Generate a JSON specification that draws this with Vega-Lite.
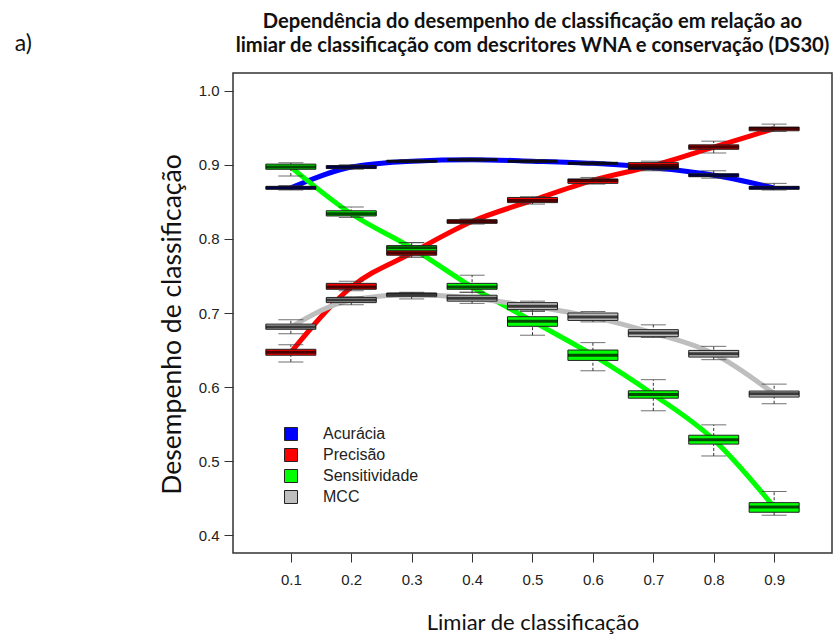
{
  "$schema": "https://vega.github.io/schema/vega-lite/v6.json",
  "width": 599,
  "height": 480,
  "autosize": "none",
  "padding": {"left": 233, "top": 73, "right": 5, "bottom": 86},
  "background": "white",
  "title": {
    "text": ["Dependência do desempenho de classificação em relação ao", "limiar de classificação com descritores WNA e conservação (DS30)"],
    "font": "Lato",
    "fontWeight": "bold",
    "fontSize": 20.2,
    "lineHeight": 24,
    "color": "#111",
    "anchor": "middle",
    "frame": "group",
    "offset": -23
  },
  "config": {
    "view": {"stroke": "#333", "strokeWidth": 1.5},
    "axis": {
      "grid": false,
      "domain": false,
      "tickColor": "#333",
      "tickSize": 9,
      "labelFont": "Liberation Sans",
      "labelFontSize": 15,
      "labelColor": "#222",
      "titleFont": "Lato",
      "titleFontWeight": "normal",
      "titleColor": "#111"
    }
  },
  "layer": [
    {
      "data": {
        "values": [
          {"t": 0.1, "metric": "Acurácia", "lo": 0.866, "q1": 0.867, "med": 0.869, "q3": 0.871, "hi": 0.872},
          {"t": 0.2, "metric": "Acurácia", "lo": 0.894, "q1": 0.895, "med": 0.897, "q3": 0.899, "hi": 0.900},
          {"t": 0.3, "metric": "Acurácia", "lo": 0.903, "q1": 0.904, "med": 0.905, "q3": 0.906, "hi": 0.907},
          {"t": 0.4, "metric": "Acurácia", "lo": 0.905, "q1": 0.906, "med": 0.907, "q3": 0.908, "hi": 0.909},
          {"t": 0.5, "metric": "Acurácia", "lo": 0.903, "q1": 0.904, "med": 0.905, "q3": 0.906, "hi": 0.907},
          {"t": 0.6, "metric": "Acurácia", "lo": 0.900, "q1": 0.901, "med": 0.902, "q3": 0.903, "hi": 0.904},
          {"t": 0.7, "metric": "Acurácia", "lo": 0.892, "q1": 0.894, "med": 0.896, "q3": 0.898, "hi": 0.900},
          {"t": 0.8, "metric": "Acurácia", "lo": 0.882, "q1": 0.884, "med": 0.886, "q3": 0.888, "hi": 0.892},
          {"t": 0.9, "metric": "Acurácia", "lo": 0.866, "q1": 0.867, "med": 0.869, "q3": 0.871, "hi": 0.875},
          {"t": 0.1, "metric": "Precisão", "lo": 0.634, "q1": 0.643, "med": 0.647, "q3": 0.651, "hi": 0.657},
          {"t": 0.2, "metric": "Precisão", "lo": 0.730, "q1": 0.732, "med": 0.735, "q3": 0.740, "hi": 0.743},
          {"t": 0.3, "metric": "Precisão", "lo": 0.775, "q1": 0.778, "med": 0.781, "q3": 0.785, "hi": 0.795},
          {"t": 0.4, "metric": "Precisão", "lo": 0.820, "q1": 0.821, "med": 0.8235, "q3": 0.826, "hi": 0.827},
          {"t": 0.5, "metric": "Precisão", "lo": 0.847, "q1": 0.849, "med": 0.852, "q3": 0.856, "hi": 0.857},
          {"t": 0.6, "metric": "Precisão", "lo": 0.874, "q1": 0.875, "med": 0.879, "q3": 0.881, "hi": 0.883},
          {"t": 0.7, "metric": "Precisão", "lo": 0.893, "q1": 0.896, "med": 0.899, "q3": 0.903, "hi": 0.905},
          {"t": 0.8, "metric": "Precisão", "lo": 0.916, "q1": 0.921, "med": 0.924, "q3": 0.927, "hi": 0.932},
          {"t": 0.9, "metric": "Precisão", "lo": 0.945, "q1": 0.946, "med": 0.949, "q3": 0.951, "hi": 0.955},
          {"t": 0.1, "metric": "Sensitividade", "lo": 0.885, "q1": 0.894, "med": 0.897, "q3": 0.901, "hi": 0.903},
          {"t": 0.2, "metric": "Sensitividade", "lo": 0.829, "q1": 0.831, "med": 0.834, "q3": 0.838, "hi": 0.843},
          {"t": 0.3, "metric": "Sensitividade", "lo": 0.777, "q1": 0.784, "med": 0.788, "q3": 0.791, "hi": 0.795},
          {"t": 0.4, "metric": "Sensitividade", "lo": 0.728, "q1": 0.732, "med": 0.735, "q3": 0.740, "hi": 0.751},
          {"t": 0.5, "metric": "Sensitividade", "lo": 0.670, "q1": 0.682, "med": 0.689, "q3": 0.695, "hi": 0.703},
          {"t": 0.6, "metric": "Sensitividade", "lo": 0.622, "q1": 0.636, "med": 0.643, "q3": 0.650, "hi": 0.660},
          {"t": 0.7, "metric": "Sensitividade", "lo": 0.568, "q1": 0.585, "med": 0.590, "q3": 0.595, "hi": 0.610},
          {"t": 0.8, "metric": "Sensitividade", "lo": 0.507, "q1": 0.523, "med": 0.529, "q3": 0.535, "hi": 0.549},
          {"t": 0.9, "metric": "Sensitividade", "lo": 0.427, "q1": 0.431, "med": 0.438, "q3": 0.444, "hi": 0.459},
          {"t": 0.1, "metric": "MCC", "lo": 0.672, "q1": 0.678, "med": 0.681, "q3": 0.685, "hi": 0.691},
          {"t": 0.2, "metric": "MCC", "lo": 0.711, "q1": 0.714, "med": 0.7175, "q3": 0.721, "hi": 0.722},
          {"t": 0.3, "metric": "MCC", "lo": 0.719, "q1": 0.722, "med": 0.725, "q3": 0.727, "hi": 0.728},
          {"t": 0.4, "metric": "MCC", "lo": 0.713, "q1": 0.716, "med": 0.720, "q3": 0.724, "hi": 0.728},
          {"t": 0.5, "metric": "MCC", "lo": 0.702, "q1": 0.7045, "med": 0.709, "q3": 0.714, "hi": 0.716},
          {"t": 0.6, "metric": "MCC", "lo": 0.688, "q1": 0.690, "med": 0.6945, "q3": 0.700, "hi": 0.702},
          {"t": 0.7, "metric": "MCC", "lo": 0.667, "q1": 0.668, "med": 0.673, "q3": 0.6775, "hi": 0.684},
          {"t": 0.8, "metric": "MCC", "lo": 0.637, "q1": 0.6405, "med": 0.645, "q3": 0.6495, "hi": 0.655},
          {"t": 0.9, "metric": "MCC", "lo": 0.5775, "q1": 0.5865, "med": 0.591, "q3": 0.5946, "hi": 0.604}
        ]
      },
      "encoding": {
        "x": {
          "field": "t",
          "type": "quantitative",
          "scale": {"domain": [0.0125, 0.9875], "nice": false, "zero": false},
          "axis": {
            "values": [0.1, 0.2, 0.3, 0.4, 0.5, 0.6, 0.7, 0.8, 0.9],
            "format": ".1f",
            "labelPadding": 10,
            "title": "Limiar de classificação",
            "titleFontSize": 22,
            "titlePadding": 25
          }
        },
        "y": {
          "type": "quantitative",
          "scale": {"domain": [0.376, 1.024], "nice": false, "zero": false},
          "axis": {
            "values": [0.4, 0.5, 0.6, 0.7, 0.8, 0.9, 1.0],
            "format": ".1f",
            "labelPadding": 5,
            "title": "Desempenho de classificação",
            "titleFontSize": 26.5,
            "titlePadding": 12,
            "titleY": 251,
            "titleAlign": "center"
          }
        }
      },
      "layer": [
        {
          "mark": {"type": "line", "interpolate": "monotone", "strokeWidth": 5},
          "encoding": {
            "y": {"field": "med"},
            "detail": {"field": "metric"},
            "stroke": {
              "field": "metric",
              "type": "nominal",
              "scale": {"domain": ["MCC", "Sensitividade", "Precisão", "Acurácia"], "range": ["#BEBEBE", "#00FF00", "#FF0000", "#0000FF"]},
              "legend": null
            }
          }
        },
        {
          "mark": {"type": "rule", "color": "#333", "strokeWidth": 1, "strokeDash": [3, 2]},
          "encoding": {"y": {"field": "lo"}, "y2": {"field": "hi"}}
        },
        {
          "mark": {"type": "tick", "orient": "horizontal", "size": 25, "thickness": 1, "color": "#333"},
          "encoding": {"y": {"field": "lo"}}
        },
        {
          "mark": {"type": "tick", "orient": "horizontal", "size": 25, "thickness": 1, "color": "#333"},
          "encoding": {"y": {"field": "hi"}}
        },
        {
          "mark": {"type": "bar", "orient": "vertical", "width": 50, "stroke": "#222", "strokeWidth": 1, "opacity": 1},
          "encoding": {
            "y": {"field": "q1"},
            "y2": {"field": "q3"},
            "fill": {
              "field": "metric",
              "type": "nominal",
              "scale": {"domain": ["Acurácia", "Precisão", "Sensitividade", "MCC"], "range": ["#0000FF", "#FF0000", "#00FF00", "#BEBEBE"]},
              "legend": {
                "title": null,
                "orient": "none",
                "legendX": 50,
                "legendY": 353,
                "symbolType": "square",
                "symbolSize": 169,
                "symbolStrokeColor": "#222",
                "symbolStrokeWidth": 1,
                "symbolOpacity": 1,
                "labelFont": "Liberation Sans",
                "labelFontSize": 16,
                "labelColor": "#222",
                "labelOffset": 24,
                "rowPadding": 3
              }
            }
          }
        },
        {
          "mark": {"type": "tick", "orient": "horizontal", "size": 50, "thickness": 3, "color": "black"},
          "encoding": {"y": {"field": "med"}}
        }
      ]
    },
    {
      "data": {"values": [{"label": "a)"}]},
      "mark": {"type": "text", "font": "Lato", "fontSize": 23, "color": "#111", "align": "center", "baseline": "middle", "clip": false},
      "encoding": {
        "x": {"datum": -0.343, "type": "quantitative", "axis": {"title": "Limiar de classificação"}},
        "y": {"datum": 1.0635, "type": "quantitative", "axis": {"title": "Desempenho de classificação"}},
        "text": {"field": "label", "type": "nominal"}
      }
    }
  ]
}
